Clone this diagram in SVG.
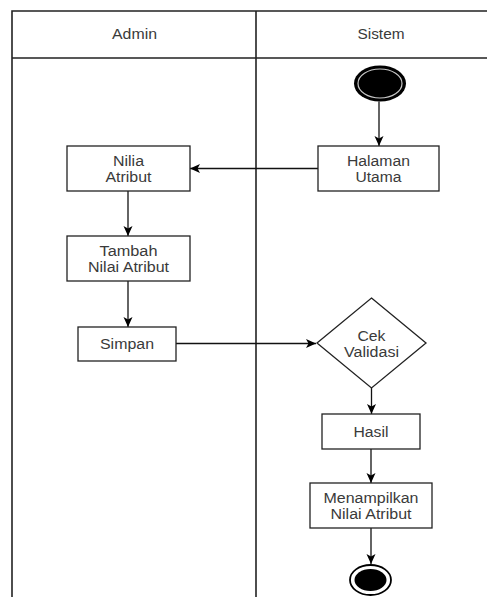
<svg xmlns="http://www.w3.org/2000/svg" width="487" height="597" viewBox="0 0 487 597">
  <defs>
    <marker id="arrow" viewBox="0 0 10 10" refX="10" refY="5" markerWidth="10" markerHeight="10" markerUnits="userSpaceOnUse" orient="auto">
      <path d="M0,0.5 L10,5 L0,9.5 L2.5,5 Z" fill="#000"/>
    </marker>
    <style>
      .lane { fill: none; stroke: #222; stroke-width: 1.6; }
      .box { fill: #fff; stroke: #222; stroke-width: 1.3; }
      .edge { fill: none; stroke: #111; stroke-width: 1.3; marker-end: url(#arrow); }
      .lbl { font-family: "Liberation Sans", Arial, sans-serif; font-size: 14px; fill: #3a3a3a; text-anchor: middle; }
    </style>
  </defs>
  <rect width="487" height="597" fill="#fff"/>

  <!-- swimlanes -->
  <g id="lanes">
    <path class="lane" d="M12,597 V11 H487 M12,58 H487 M256,11 V597"/>
    <text class="lbl" x="134.5" y="38.5" textLength="45" lengthAdjust="spacingAndGlyphs">Admin</text>
    <text class="lbl" x="381" y="38.5" textLength="47" lengthAdjust="spacingAndGlyphs">Sistem</text>
  </g>

  <!-- connectors -->
  <g id="connectors">
    <path class="edge" d="M379,101.5 V146"/>
    <path class="edge" d="M318,168.5 H190"/>
    <path class="edge" d="M128,191 V236"/>
    <path class="edge" d="M128,281 V327"/>
    <path class="edge" d="M176,343.5 H316"/>
    <path class="edge" d="M371.5,388 V414"/>
    <path class="edge" d="M371,449 V483"/>
    <path class="edge" d="M371,528 V564"/>
  </g>

  <g id="start">
    <ellipse cx="380" cy="83.5" rx="26" ry="18" fill="#000"/>
    <ellipse cx="380" cy="83.5" rx="22" ry="14.5" fill="#000" stroke="#c8c8c8" stroke-width="1.2"/>
  </g>

  <g id="halaman-utama">
    <rect class="box" x="318" y="146" width="121" height="45"/>
    <text class="lbl" x="378.5" y="166" textLength="63" lengthAdjust="spacingAndGlyphs">Halaman</text>
    <text class="lbl" x="378.5" y="182" textLength="46" lengthAdjust="spacingAndGlyphs">Utama</text>
  </g>

  <g id="nilia-atribut">
    <rect class="box" x="67" y="146" width="123" height="45"/>
    <text class="lbl" x="128.5" y="166" textLength="31" lengthAdjust="spacingAndGlyphs">Nilia</text>
    <text class="lbl" x="128.5" y="181.5" textLength="46" lengthAdjust="spacingAndGlyphs">Atribut</text>
  </g>

  <g id="tambah-nilai-atribut">
    <rect class="box" x="67" y="236" width="123" height="45"/>
    <text class="lbl" x="128.5" y="256" textLength="58" lengthAdjust="spacingAndGlyphs">Tambah</text>
    <text class="lbl" x="128.5" y="271.5" textLength="81" lengthAdjust="spacingAndGlyphs">Nilai Atribut</text>
  </g>

  <g id="simpan">
    <rect class="box" x="78" y="327" width="98" height="34"/>
    <text class="lbl" x="127" y="349" textLength="54" lengthAdjust="spacingAndGlyphs">Simpan</text>
  </g>

  <g id="cek-validasi">
    <path class="box" d="M371.5,298 L426,343 L371.5,388 L317,343 Z"/>
    <text class="lbl" x="371.5" y="341" textLength="28" lengthAdjust="spacingAndGlyphs">Cek</text>
    <text class="lbl" x="371.5" y="357" textLength="55" lengthAdjust="spacingAndGlyphs">Validasi</text>
  </g>

  <g id="hasil">
    <rect class="box" x="322" y="414" width="98" height="35"/>
    <text class="lbl" x="371" y="437" textLength="35" lengthAdjust="spacingAndGlyphs">Hasil</text>
  </g>

  <g id="menampilkan-nilai-atribut">
    <rect class="box" x="310" y="483" width="122" height="45"/>
    <text class="lbl" x="371" y="503" textLength="95" lengthAdjust="spacingAndGlyphs">Menampilkan</text>
    <text class="lbl" x="371" y="519" textLength="81" lengthAdjust="spacingAndGlyphs">Nilai Atribut</text>
  </g>

  <g id="end">
    <ellipse cx="370.5" cy="580" rx="20.5" ry="15" fill="#fff" stroke="#000" stroke-width="1.8"/>
    <ellipse cx="370.5" cy="580" rx="16" ry="11" fill="#000"/>
  </g>
</svg>
